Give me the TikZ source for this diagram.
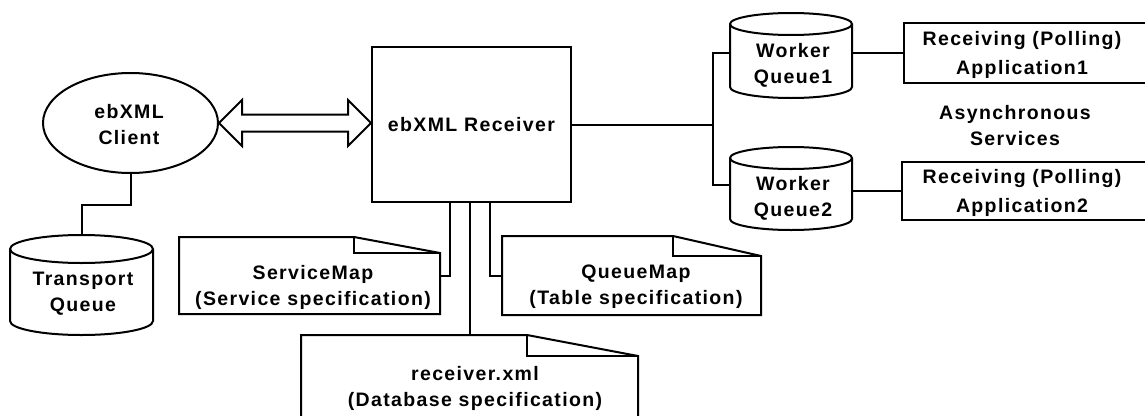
\documentclass[tikz,border=0pt]{standalone}
\usepackage{fontspec}
\setmainfont{Liberation Sans}[LetterSpace=7]
\usetikzlibrary{calc,shapes.geometric}
\tikzset{
  ln/.style={line width=2pt, line join=miter},
  lbl/.style={font=\bfseries\fontsize{19.5}{26}\selectfont, align=center, inner sep=0pt},
  widelbl/.style={lbl, font=\bfseries\fontsize{19.5}{29}\selectfont},
  box/.style={ln, draw, rectangle, inner sep=0pt},
  hold/.style={inner sep=0pt, rectangle},
}
% drum (queue storage): name, centre x, top, bottom, x radius, y radius
\newcommand\drum[6]{%
  \node[hold, minimum width={2*#5}, minimum height={#4-#3}] (#1) at (#2,{(#3+#4)/2}) {};
  \draw[ln] (#2,#3+#6) ellipse [x radius=#5, y radius=#6];
  \draw[ln] (#2-#5,#3+#6) -- (#2-#5,#4-#6)
    arc [start angle=180, end angle=0, x radius=#5, y radius=#6] -- (#2+#5,#3+#6);
}
% document sheet with folded corner: name, left, top, right, bottom, fold x, fold y
\newcommand\docsheet[7]{%
  \node[hold, minimum width={#4-#2}, minimum height={#5-#3}] (#1) at ({(#2+#4)/2},{(#3+#5)/2}) {};
  \draw[ln] (#2,#3) -- (#6,#3) -- (#4,#7) -- (#4,#5) -- (#2,#5) -- cycle;
  \draw[ln] (#6,#3) -- (#6,#7) -- (#4,#7);
}
\begin{document}
\begin{tikzpicture}[x=1pt,y=-1pt]
\useasboundingbox (0,0) rectangle (1145,415);
\clip (0,0) rectangle (1145,415);

% client and receiver
\node[ln, draw, ellipse, minimum width=175pt, minimum height=100pt, inner sep=0pt] (client) at (130.5,123) {};
\node[lbl] at (129,125) {ebXML\\Client};
\node[box, lbl, minimum width=199pt, minimum height=155pt] (rcv) at (471.5,124.5) {ebXML Receiver};

% hollow two-way arrow
\draw[ln] (client.east) -- ++(23,-23) -- ++(0,14.5)
  -- ($(rcv.west |- client.east)+(-23,-8.5)$) -- ++(0,-14.5)
  -- (rcv.west |- client.east) -- ++(-23,23) -- ++(0,-14.5)
  -- ($(client.east)+(23,8.5)$) -- ++(0,14.5) -- cycle;

% queues
\drum{tq}{81.5}{235}{335}{71.5}{14}
\drum{wq1}{791}{13}{98}{61}{11}
\drum{wq2}{791}{147}{230}{61}{11}
\node[lbl] at (83,294) {Transport\\Queue};
\node[lbl] at (793,65) {Worker\\Queue1};
\node[lbl] at (793,198) {Worker\\Queue2};

% polling applications
\node[box, minimum width=260pt, minimum height=60pt, anchor=west] (app1) at (903,53) {};
\node[box, minimum width=260pt, minimum height=58pt, anchor=west] (app2) at (901,191) {};
\node[widelbl] at (1022,55) {Receiving (Polling)\\Application1};
\node[widelbl] at (1022,193) {Receiving (Polling)\\Application2};
\node[lbl] at (1015,126) {Asynchronous\\Services};

% configuration documents
\docsheet{smap}{179}{237}{440}{314}{354}{253}
\docsheet{qmap}{502}{236}{761}{315}{673}{256}
\docsheet{rxml}{301}{335}{638}{440}{527}{356}
\node[lbl] at (313,287) {ServiceMap\\(Service specification)};
\node[lbl] at (636,287) {QueueMap\\(Table specification)};
\node[lbl] at (475,388) {receiver.xml\\(Database specification)};

% connectors
\draw[ln] (client.south) -- ++(0,31) -| (tq.north);
\coordinate (jn) at ($(rcv.east)+(141,0)$);
\draw[ln] (rcv.east) -- (jn);
\draw[ln] ([yshift=2.5pt]wq1.west) -| (jn) |- ([yshift=3.5pt]wq2.west);
\draw[ln] (wq1.east |- app1.west) -- (app1.west);
\draw[ln] (wq2.east |- app2.west) -- (app2.west);
\coordinate (sx) at ($(rcv.south)+(-21.5,0)$);
\coordinate (qx) at ($(rcv.south)+(18.5,0)$);
\coordinate (xx) at ($(rcv.south)+(-1.5,0)$);
\draw[ln] (sx) |- (smap.east);
\draw[ln] (qx) |- (qmap.west);
\draw[ln] (xx) -- (xx |- rxml.north);
\end{tikzpicture}
\end{document}
